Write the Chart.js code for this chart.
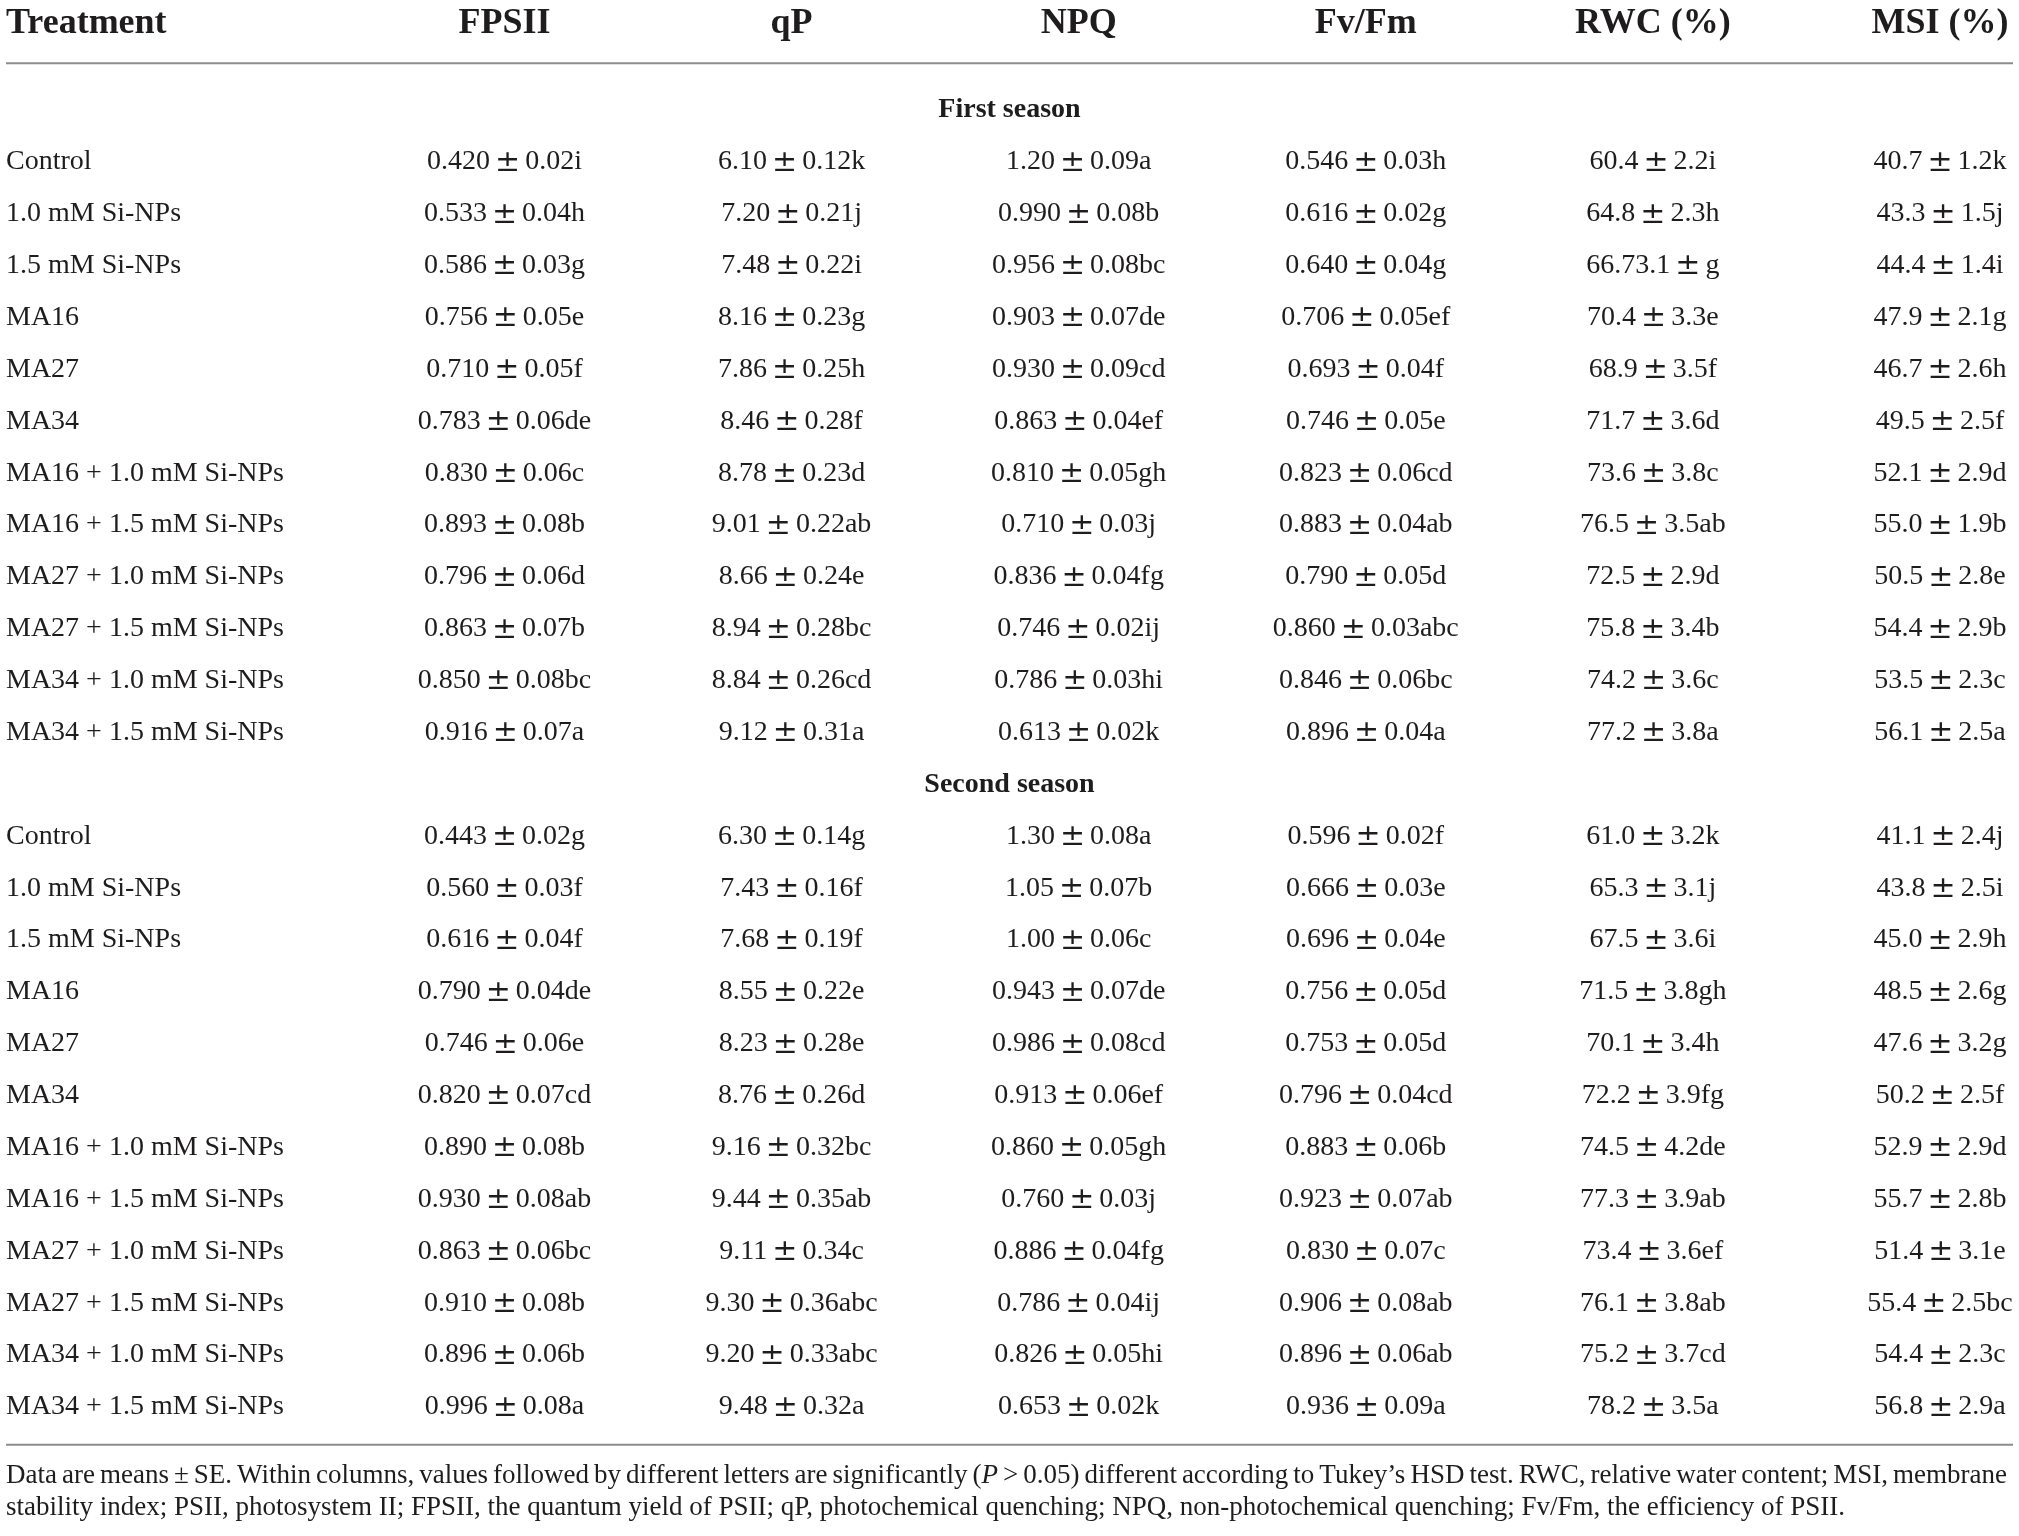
<!DOCTYPE html>
<html>
<head>
<meta charset="utf-8">
<script src="https://cdn.jsdelivr.net/npm/chart.js@4.4.0/dist/chart.umd.min.js"></script>
<style>
body { margin: 0; background: #fff; }
#wrap { width: 2019px; height: 1536px; }
</style>
</head>
<body>
<div id="wrap"><canvas id="tablechart" width="2019" height="1536"></canvas></div>
<script>
//these are the columns and row names of the table
let columns = ["FPSII", "qP", "NPQ", "Fv/Fm", "RWC (%)", "MSI (%)"]
let seasons = ["First season", "Second season"]
let treatments = ["Control", "1.0 mM Si-NPs", "1.5 mM Si-NPs", "MA16", "MA27", "MA34",
    "MA16 + 1.0 mM Si-NPs", "MA16 + 1.5 mM Si-NPs", "MA27 + 1.0 mM Si-NPs",
    "MA27 + 1.5 mM Si-NPs", "MA34 + 1.0 mM Si-NPs", "MA34 + 1.5 mM Si-NPs"]

//first season values, one list per column
let fpsii1 = ["0.420 ± 0.02i", "0.533 ± 0.04h", "0.586 ± 0.03g", "0.756 ± 0.05e", "0.710 ± 0.05f", "0.783 ± 0.06de", "0.830 ± 0.06c", "0.893 ± 0.08b", "0.796 ± 0.06d", "0.863 ± 0.07b", "0.850 ± 0.08bc", "0.916 ± 0.07a"]
let qp1 = ["6.10 ± 0.12k", "7.20 ± 0.21j", "7.48 ± 0.22i", "8.16 ± 0.23g", "7.86 ± 0.25h", "8.46 ± 0.28f", "8.78 ± 0.23d", "9.01 ± 0.22ab", "8.66 ± 0.24e", "8.94 ± 0.28bc", "8.84 ± 0.26cd", "9.12 ± 0.31a"]
let npq1 = ["1.20 ± 0.09a", "0.990 ± 0.08b", "0.956 ± 0.08bc", "0.903 ± 0.07de", "0.930 ± 0.09cd", "0.863 ± 0.04ef", "0.810 ± 0.05gh", "0.710 ± 0.03j", "0.836 ± 0.04fg", "0.746 ± 0.02ij", "0.786 ± 0.03hi", "0.613 ± 0.02k"]
let fvfm1 = ["0.546 ± 0.03h", "0.616 ± 0.02g", "0.640 ± 0.04g", "0.706 ± 0.05ef", "0.693 ± 0.04f", "0.746 ± 0.05e", "0.823 ± 0.06cd", "0.883 ± 0.04ab", "0.790 ± 0.05d", "0.860 ± 0.03abc", "0.846 ± 0.06bc", "0.896 ± 0.04a"]
let rwc1 = ["60.4 ± 2.2i", "64.8 ± 2.3h", "66.73.1 ± g", "70.4 ± 3.3e", "68.9 ± 3.5f", "71.7 ± 3.6d", "73.6 ± 3.8c", "76.5 ± 3.5ab", "72.5 ± 2.9d", "75.8 ± 3.4b", "74.2 ± 3.6c", "77.2 ± 3.8a"]
let msi1 = ["40.7 ± 1.2k", "43.3 ± 1.5j", "44.4 ± 1.4i", "47.9 ± 2.1g", "46.7 ± 2.6h", "49.5 ± 2.5f", "52.1 ± 2.9d", "55.0 ± 1.9b", "50.5 ± 2.8e", "54.4 ± 2.9b", "53.5 ± 2.3c", "56.1 ± 2.5a"]

//second season values
let fpsii2 = ["0.443 ± 0.02g", "0.560 ± 0.03f", "0.616 ± 0.04f", "0.790 ± 0.04de", "0.746 ± 0.06e", "0.820 ± 0.07cd", "0.890 ± 0.08b", "0.930 ± 0.08ab", "0.863 ± 0.06bc", "0.910 ± 0.08b", "0.896 ± 0.06b", "0.996 ± 0.08a"]
let qp2 = ["6.30 ± 0.14g", "7.43 ± 0.16f", "7.68 ± 0.19f", "8.55 ± 0.22e", "8.23 ± 0.28e", "8.76 ± 0.26d", "9.16 ± 0.32bc", "9.44 ± 0.35ab", "9.11 ± 0.34c", "9.30 ± 0.36abc", "9.20 ± 0.33abc", "9.48 ± 0.32a"]
let npq2 = ["1.30 ± 0.08a", "1.05 ± 0.07b", "1.00 ± 0.06c", "0.943 ± 0.07de", "0.986 ± 0.08cd", "0.913 ± 0.06ef", "0.860 ± 0.05gh", "0.760 ± 0.03j", "0.886 ± 0.04fg", "0.786 ± 0.04ij", "0.826 ± 0.05hi", "0.653 ± 0.02k"]
let fvfm2 = ["0.596 ± 0.02f", "0.666 ± 0.03e", "0.696 ± 0.04e", "0.756 ± 0.05d", "0.753 ± 0.05d", "0.796 ± 0.04cd", "0.883 ± 0.06b", "0.923 ± 0.07ab", "0.830 ± 0.07c", "0.906 ± 0.08ab", "0.896 ± 0.06ab", "0.936 ± 0.09a"]
let rwc2 = ["61.0 ± 3.2k", "65.3 ± 3.1j", "67.5 ± 3.6i", "71.5 ± 3.8gh", "70.1 ± 3.4h", "72.2 ± 3.9fg", "74.5 ± 4.2de", "77.3 ± 3.9ab", "73.4 ± 3.6ef", "76.1 ± 3.8ab", "75.2 ± 3.7cd", "78.2 ± 3.5a"]
let msi2 = ["41.1 ± 2.4j", "43.8 ± 2.5i", "45.0 ± 2.9h", "48.5 ± 2.6g", "47.6 ± 3.2g", "50.2 ± 2.5f", "52.9 ± 2.9d", "55.7 ± 2.8b", "51.4 ± 3.1e", "55.4 ± 2.5bc", "54.4 ± 2.3c", "56.8 ± 2.9a"]

//the text between stars is set in italic
let footnote1 = "Data are means ± SE. Within columns, values followed by different letters are significantly (*P* > 0.05) different according to Tukey’s HSD test. RWC, relative water content; MSI, membrane"
let footnote2 = "stability index; PSII, photosystem II; FPSII, the quantum yield of PSII; qP, photochemical quenching; NPQ, non-photochemical quenching; Fv/Fm, the efficiency of PSII."

let textcolor = "#1f1c1d"
let rulecolor = "#8c8c8c"
let serif = "'Liberation Serif', 'DejaVu Serif', serif"
let cellfont = "28px " + serif
let pmfont = "30px 'DejaVu Serif', serif"
let notesize = 27

//builds one invisible dataset for every column of a season, the plugin writes the text at each point
let seasondata = [[fpsii1, qp1, npq1, fvfm1, rwc1, msi1], [fpsii2, qp2, npq2, fvfm2, rwc2, msi2]]
let datasets = []
seasondata.forEach((cols, s) => {
    let start = s * 13 + 1
    cols.forEach((vals, c) => {
        datasets.push({
            label: seasons[s] + " " + columns[c],
            texts: vals,
            data: vals.map((v, i) => ({x: c + 1, y: start + i})),
            pointRadius: 0,
            showLine: false
        })
    })
})

//writes "mean ± se" centred on x, the ± sign is drawn a bit larger like in print
function drawCell(ctx, text, x, y) {
    let halves = text.split(" ± ")
    ctx.font = cellfont
    let wl = ctx.measureText(halves[0]).width
    let wr = ctx.measureText(halves[1]).width
    ctx.font = pmfont
    let wp = ctx.measureText("±").width
    let gap = 5
    let x0 = x - (wl + wp + wr + gap * 2) / 2
    ctx.font = cellfont
    ctx.fillText(halves[0], x0, y)
    ctx.fillText(halves[1], x0 + wl + wp + gap * 2, y)
    ctx.font = pmfont
    ctx.fillText("±", x0 + wl + gap, y + 1)
}

//splits a footnote word into plain and italic parts
function parts(word) {
    return word.split("*").map((t, i) => ({t: t, italic: i % 2 == 1})).filter(p => p.t.length)
}
function noteFont(italic) {
    return (italic ? "italic " : "") + notesize + "px " + serif
}
function wordWidth(ctx, word) {
    let w = 0
    parts(word).forEach(p => {
        ctx.font = noteFont(p.italic)
        w += ctx.measureText(p.t).width
    })
    return w
}
function drawWord(ctx, word, x, y) {
    parts(word).forEach(p => {
        ctx.font = noteFont(p.italic)
        ctx.fillText(p.t, x, y)
        x += ctx.measureText(p.t).width
    })
}
function drawNote(ctx, text, left, right, y) {
    let words = text.split(" ")
    let widths = words.map(w => wordWidth(ctx, w))
    ctx.font = noteFont(false)
    let gap = ctx.measureText(" ").width
    //only set the line to the full width if a right edge is given
    if (right) {
        let total = widths.reduce((a, b) => a + b, 0)
        gap = (right - left - total) / (words.length - 1)
    }
    let x = left
    words.forEach((w, i) => {
        drawWord(ctx, w, x, y)
        x += widths[i] + gap
    })
}

let tableplugin = {
    id: "tabletext",
    afterDatasetsDraw(chart) {
        let ctx = chart.ctx
        let xs = chart.scales.x
        let ys = chart.scales.y
        let area = chart.chartArea
        ctx.save()
        ctx.fillStyle = textcolor
        ctx.textBaseline = "middle"

        //header row
        ctx.font = "bold 36px " + serif
        ctx.textAlign = "left"
        ctx.fillText("Treatment", area.left + 6, ys.getPixelForValue(-1.66))
        ctx.textAlign = "center"
        columns.forEach((c, i) => {
            ctx.fillText(c, xs.getPixelForValue(i + 1), ys.getPixelForValue(-1.66))
        })

        //rules
        ctx.strokeStyle = rulecolor
        ctx.lineWidth = 2
        ;[-0.9, 25.73].forEach(v => {
            let y = ys.getPixelForValue(v)
            ctx.beginPath()
            ctx.moveTo(area.left + 6, y)
            ctx.lineTo(area.right - 6, y)
            ctx.stroke()
        })

        //season titles and treatment names
        seasons.forEach((s, i) => {
            ctx.font = "bold 28px " + serif
            ctx.textAlign = "center"
            ctx.fillText(s, (area.left + area.right) / 2, ys.getPixelForValue(i * 13))
            ctx.font = cellfont
            ctx.textAlign = "left"
            treatments.forEach((t, j) => {
                ctx.fillText(t, area.left + 6, ys.getPixelForValue(i * 13 + 1 + j))
            })
        })

        //cell values
        ctx.textAlign = "left"
        chart.data.datasets.forEach((ds, d) => {
            let meta = chart.getDatasetMeta(d)
            meta.data.forEach((pt, i) => {
                drawCell(ctx, ds.texts[i], pt.x, pt.y)
            })
        })

        //footnote, the first line fills the width
        drawNote(ctx, footnote1, area.left + 6, area.right - 12, ys.getPixelForValue(26.33))
        drawNote(ctx, footnote2, area.left + 6, null, ys.getPixelForValue(26.95))
        ctx.restore()
    }
}

let tablechart = new Chart(document.getElementById("tablechart"), {
    type: "scatter",
    data: {datasets: datasets},
    options: {
        responsive: false,
        animation: false,
        devicePixelRatio: 1,
        layout: {padding: 0},
        plugins: {legend: {display: false}, tooltip: {enabled: false}},
        scales: {
            x: {type: "linear", display: false, min: -0.7572, max: 6.2752},
            y: {type: "linear", display: false, reverse: true, min: -2.12, max: 27.487}
        }
    },
    plugins: [tableplugin]
})
</script>
</body>
</html>
